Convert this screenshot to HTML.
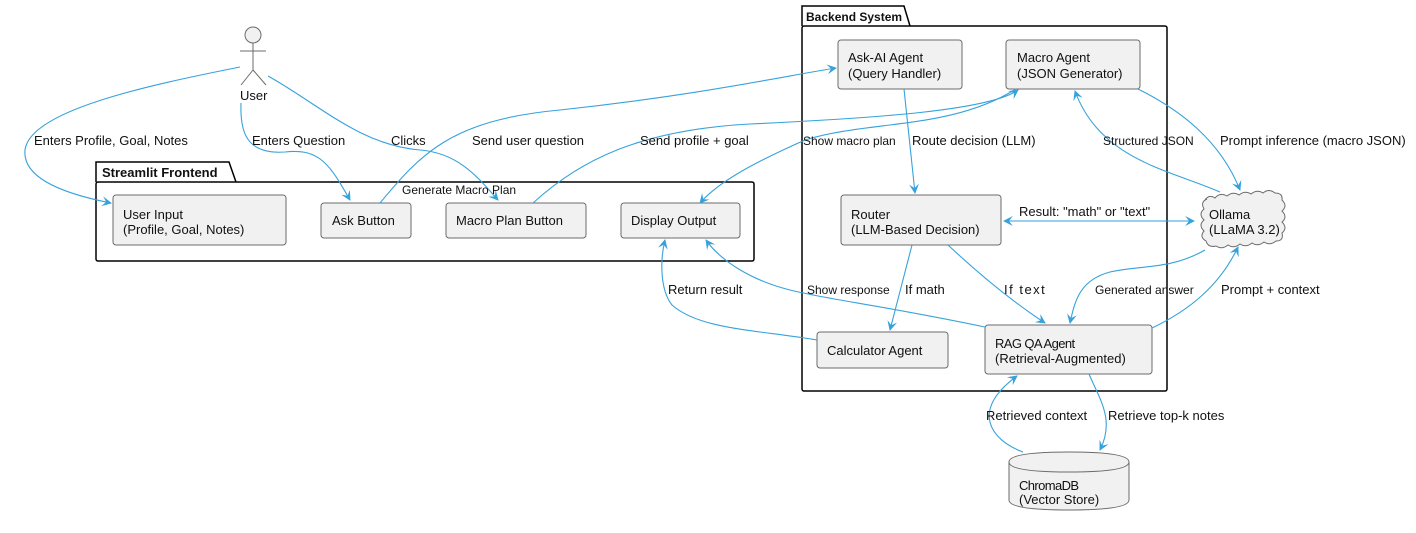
<!DOCTYPE html>
<html><head><meta charset="utf-8"><style>
body{margin:0;background:#fff}
svg text{font-family:"Liberation Sans",sans-serif;font-size:13px;fill:#111}
.n{fill:#f1f1f1;stroke:#6b6b6b;stroke-width:1}
.e{fill:none;stroke:#36a2dc;stroke-width:1.1}
.l{font-size:12.5px}
</style></head><body>
<svg width="1416" height="528" viewBox="0 0 1416 528">
<defs><marker id="a" viewBox="0 0 10 10" refX="9" refY="5" markerWidth="9" markerHeight="9" orient="auto-start-reverse"><path d="M0,0 L10,5 L0,10 L4,5 Z" fill="#36a2dc"/></marker></defs>
<!-- packages -->
<path d="M96,182 L96,162 L229,162 L236,182" fill="#fff" stroke="#000" stroke-width="1.5"/>
<rect x="96" y="182" width="658" height="79" rx="2" fill="none" stroke="#000" stroke-width="1.5"/>
<text x="102" y="177" style="font-weight:bold">Streamlit Frontend</text>
<path d="M802,26 L802,6 L904,6 L910,26" fill="#fff" stroke="#000" stroke-width="1.5"/>
<rect x="802" y="26" width="365" height="365" rx="2" fill="none" stroke="#000" stroke-width="1.5"/>
<text x="806" y="21" style="font-weight:bold;font-size:12px">Backend System</text>
<!-- actor -->
<g stroke="#6b6b6b" fill="#f1f1f1" stroke-width="1"><circle cx="253" cy="35" r="8"/><line x1="253" y1="43" x2="253" y2="70"/><line x1="240" y1="51" x2="266" y2="51"/><line x1="253" y1="70" x2="241" y2="85"/><line x1="253" y1="70" x2="266" y2="85"/></g>
<text x="240" y="100">User</text>
<!-- nodes -->
<rect class="n" x="113" y="195" width="173" height="50" rx="3"/><text x="123" y="219">User Input</text><text x="123" y="234">(Profile, Goal, Notes)</text>
<rect class="n" x="321" y="203" width="90" height="35" rx="3"/><text x="332" y="225">Ask Button</text>
<rect class="n" x="446" y="203" width="140" height="35" rx="3"/><text x="456" y="225">Macro Plan Button</text>
<rect class="n" x="621" y="203" width="119" height="35" rx="3"/><text x="631" y="225">Display Output</text>
<rect class="n" x="838" y="40" width="124" height="49" rx="3"/><text x="848" y="62">Ask-AI Agent</text><text x="848" y="78">(Query Handler)</text>
<rect class="n" x="1006" y="40" width="134" height="49" rx="3"/><text x="1017" y="62">Macro Agent</text><text x="1017" y="78">(JSON Generator)</text>
<rect class="n" x="841" y="195" width="160" height="50" rx="3"/><text x="851" y="219">Router</text><text x="851" y="234">(LLM-Based Decision)</text>
<rect class="n" x="817" y="332" width="131" height="36" rx="3"/><text x="827" y="355">Calculator Agent</text>
<rect class="n" x="985" y="325" width="167" height="49" rx="3"/><text x="995" y="348" style="letter-spacing:-0.6px">RAG QA Agent</text><text x="995" y="363">(Retrieval-Augmented)</text>
<path class="n" d="M1205,200 q4,-6 10,-2 q5,-6 12,-2 q6,-5 12,-1 q6,-5 12,-1 q6,-5 12,-1 q6,-5 12,0 q8,0 7,7 q6,6 0,11 q6,6 0,11 q6,6 0,11 q2,8 -6,8 q-6,5 -12,1 q-6,5 -12,1 q-6,5 -12,1 q-6,5 -12,1 q-6,5 -12,1 q-8,2 -10,-5 q-7,-4 -2,-10 q-6,-6 0,-11 q-6,-6 0,-11 q-4,-7 3,-10 z"/>
<text x="1209" y="219">Ollama</text><text x="1209" y="234">(LLaMA 3.2)</text>
<path class="n" d="M1009,462 Q1009,452 1069,452 Q1129,452 1129,462 L1129,500 Q1129,510 1069,510 Q1009,510 1009,500 Z"/>
<path d="M1009,462 Q1009,472 1069,472 Q1129,472 1129,462" fill="none" stroke="#6b6b6b"/>
<text x="1019" y="490" style="letter-spacing:-0.6px">ChromaDB</text><text x="1019" y="504">(Vector Store)</text>
<!-- edges -->
<g class="e">
<path d="M240,67 C150,85 30,110 25,150 C22,180 70,195 111,203" marker-end="url(#a)"/>
<path d="M241,103 C240,130 245,155 285,152 C320,148 330,165 350,200" marker-end="url(#a)"/>
<path d="M268,76 C320,105 360,145 420,150 C460,153 480,180 498,200" marker-end="url(#a)"/>
<path d="M380,203 C420,155 450,120 560,110 C700,95 790,75 836,68" marker-end="url(#a)"/>
<path d="M533,203 C580,160 640,130 750,124 C880,118 990,110 1018,90" marker-end="url(#a)"/>
<path d="M1016,89 C950,130 870,120 805,140 C760,160 720,180 700,203" marker-end="url(#a)"/>
<path d="M904,89 L915,193" marker-end="url(#a)"/>
<path d="M1004,221 L1194,221" marker-start="url(#a)" marker-end="url(#a)"/>
<path d="M1138,89 C1180,110 1220,140 1240,190" marker-end="url(#a)"/>
<path d="M1220,192 C1170,170 1100,160 1075,91" marker-end="url(#a)"/>
<path d="M912,245 L890,330" marker-end="url(#a)"/>
<path d="M948,245 C980,275 1010,300 1045,323" marker-end="url(#a)"/>
<path d="M1205,250 C1170,270 1140,265 1110,272 C1080,280 1075,300 1070,323" marker-end="url(#a)"/>
<path d="M1152,328 C1190,310 1220,285 1238,247" marker-end="url(#a)"/>
<path d="M985,327 C880,305 830,300 790,290 C750,280 720,260 706,240" marker-end="url(#a)"/>
<path d="M817,340 C760,330 700,330 672,305 C660,290 660,260 665,240" marker-end="url(#a)"/>
<path d="M1089,374 C1100,400 1115,420 1100,450" marker-end="url(#a)"/>
<path d="M1023,452 C990,440 970,410 1017,376" marker-end="url(#a)"/>
</g>
<!-- labels -->
<g class="l">
<text x="34" y="145">Enters Profile, Goal, Notes</text>
<text x="252" y="145">Enters Question</text>
<text x="391" y="145">Clicks</text>
<text x="472" y="145">Send user question</text>
<text x="640" y="145">Send profile + goal</text>
<text x="803" y="145" style="font-size:12px">Show macro plan</text>
<text x="912" y="145">Route decision (LLM)</text>
<text x="1103" y="145" style="font-size:12px">Structured JSON</text>
<text x="1220" y="145">Prompt inference (macro JSON)</text>
<text x="402" y="194" style="font-size:12px">Generate Macro Plan</text>
<text x="1019" y="216">Result: "math" or "text"</text>
<text x="668" y="294">Return result</text>
<text x="807" y="294" style="font-size:12px">Show response</text>
<text x="905" y="294">If math</text>
<text x="1004" y="294" style="letter-spacing:1.5px">If text</text>
<text x="1095" y="294" style="font-size:12px">Generated answer</text>
<text x="1221" y="294">Prompt + context</text>
<text x="986" y="420">Retrieved context</text>
<text x="1108" y="420">Retrieve top-k notes</text>
</g>
</svg>
</body></html>
